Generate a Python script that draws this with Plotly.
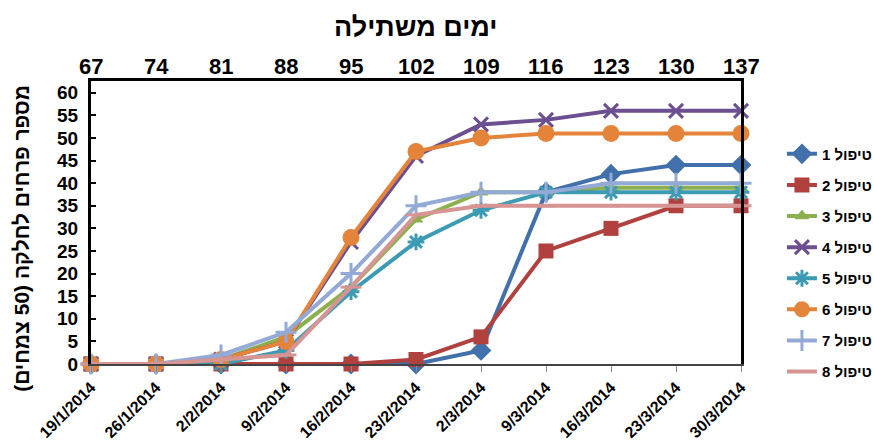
import plotly.graph_objects as go

# Sampling dates (x axis) and days from planting (top axis)
dates = ["19/1/2014", "26/1/2014", "2/2/2014", "9/2/2014", "16/2/2014", "23/2/2014",
         "2/3/2014", "9/3/2014", "16/3/2014", "23/3/2014", "30/3/2014"]
days = [67, 74, 81, 88, 95, 102, 109, 116, 123, 130, 137]

# Number of flowers per plot (50 plants) for each treatment
t1 = [0, 0, 0, 0, 0, 0, 3, 38, 42, 44, 44]
t2 = [0, 0, 0, 0, 0, 1, 6, 25, 30, 35, 35]
t3 = [0, 0, 1, 6, 17, 32, 38, 38, 39, 39, 39]
t4 = [0, 0, 1, 5, 27, 46, 53, 54, 56, 56, 56]
t5 = [0, 0, 0, 3, 16, 27, 34, 38, 38, 38, 38]
t6 = [0, 0, 1, 5, 28, 47, 50, 51, 51, 51, 51]
t7 = [0, 0, 2, 7, 20, 35, 38, 38, 40, 40, 40]
t8 = [0, 0, 1, 2, 17, 33, 35, 35, 35, 35, 35]

names = ["טיפול 1", "טיפול 2", "טיפול 3", "טיפול 4",
         "טיפול 5", "טיפול 6", "טיפול 7", "טיפול 8"]
series = [t1, t2, t3, t4, t5, t6, t7, t8]
colors = ["#4170AA", "#B0413E", "#8DB04F", "#6B4F91",
          "#3C9BB3", "#E3843A", "#93AAD6", "#D69492"]
symbols = ["diamond", "square", "triangle-up", "x-thin-open",
           "asterisk-open", "circle", "cross-thin-open", "line-ew-open"]
sizes = [16, 15, 13, 14, 14, 17, 15, 15]

HEB = "Liberation Sans, Arial, DejaVu Sans, sans-serif"

fig = go.Figure()
for i, (nm, ys) in enumerate(zip(names, series)):
    open_sym = symbols[i].endswith("-open")
    fig.add_trace(go.Scatter(
        x=list(range(len(dates))), y=ys, name=nm,
        mode="lines+markers",
        line=dict(color=colors[i], width=4),
        marker=dict(symbol=symbols[i], size=sizes[i], color=colors[i],
                    line=dict(color=colors[i], width=3 if open_sym else 0)),
        cliponaxis=False, legendgroup=nm,
    ))

# invisible trace carrying the top frame axis
fig.add_trace(go.Scatter(x=list(range(len(days))), y=[None] * len(days),
                         xaxis="x2", showlegend=False, hoverinfo="skip"))

# days-from-planting labels along the top edge, placed on the x scale
day_labels = [
    dict(text=str(d), x=i, xref="x", y=1, yref="paper", yshift=15,
         xanchor="center", yanchor="middle", showarrow=False,
         font=dict(size=22, weight="bold"))
    for i, d in enumerate(days)
]

fig.update_layout(
    width=873, height=443,
    margin=dict(l=91, r=132, t=81, b=79, autoexpand=False),
    paper_bgcolor="white", plot_bgcolor="white",
    font=dict(family=HEB, color="black"),
    xaxis=dict(
        range=[0, len(dates) - 1], tickmode="array",
        tickvals=list(range(len(dates))), ticktext=dates,
        tickangle=-45, tickfont=dict(size=16, weight="bold"),
        showgrid=False, zeroline=False, showline=True, automargin=False,
        linecolor="#444", linewidth=1.5,
        ticks="outside", ticklen=6, tickcolor="#888", tickwidth=1,
    ),
    xaxis2=dict(
        overlaying="x", side="top", range=[0, len(days) - 1],
        showticklabels=False,
        showgrid=False, zeroline=False, showline=True, automargin=False,
        linecolor="black", linewidth=2.5, ticks="",
    ),
    yaxis=dict(
        range=[0, 62.6], tickmode="linear", tick0=0, dtick=5,
        tickfont=dict(size=19, weight="bold"), ticklabelstandoff=6,
        showgrid=False, zeroline=False, showline=True, mirror=True,
        automargin=False,
        linecolor="black", linewidth=3,
        ticks="inside", ticklen=5, tickwidth=2, tickcolor="black",
    ),
    legend=dict(
        x=1.063, xanchor="left", y=0.80, yanchor="top",
        font=dict(size=15, weight="bold"), tracegroupgap=8.6,
        bgcolor="rgba(0,0,0,0)",
    ),
    showlegend=True,
    annotations=[
        dict(text="ימים משתילה", xref="paper", yref="paper",
             x=0.5, y=1.19, xanchor="center", yanchor="middle",
             showarrow=False, font=dict(size=27, weight="bold")),
        dict(text="מספר פרחים לחלקה (50 צמחים)\u200f", xref="paper", yref="paper",
             x=-0.108, y=0.445, xanchor="center", yanchor="middle",
             textangle=-90, showarrow=False,
             font=dict(size=21, weight="bold")),
    ] + day_labels,
)

fig.write_html("out.html")
